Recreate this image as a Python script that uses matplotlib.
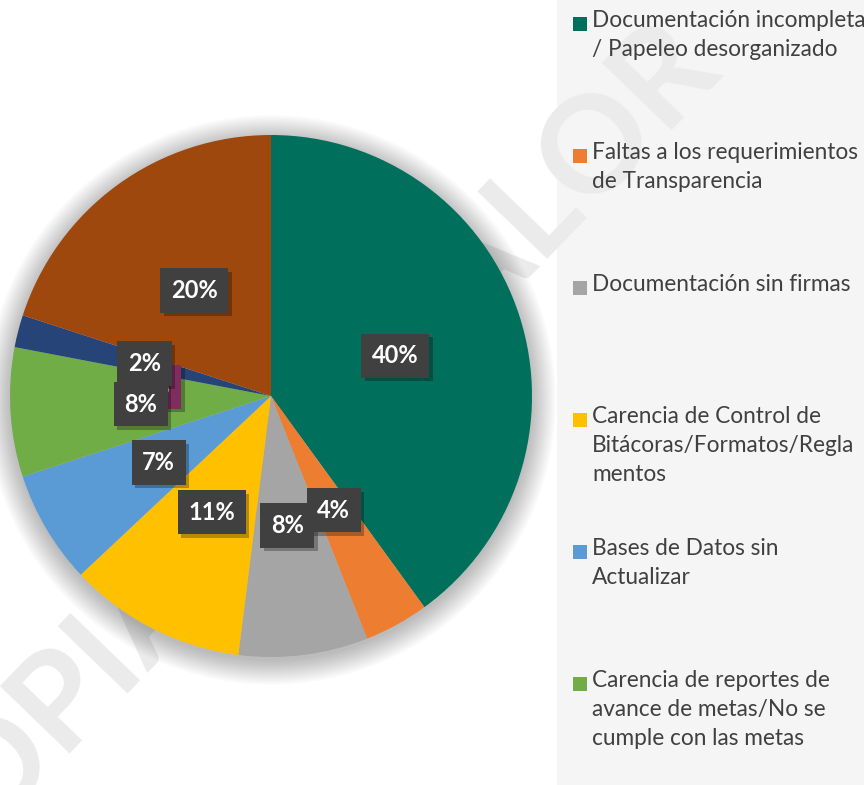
import numpy as np
import matplotlib.pyplot as plt
from matplotlib.patches import Circle, Rectangle

plt.rcParams['font.family'] = ['Lato', 'DejaVu Sans']

# Porcentajes por tipo de observación (en el orden del gráfico, horario desde arriba)
valores = [40, 4, 8, 11, 7, 8, 0, 2, 20]
colores = ['#00705C', '#ED7D31', '#A5A5A5', '#FFC000', '#5B9BD5',
           '#70AD47', '#7E2D5E', '#264478', '#9E480E']
leyenda = [
    'Documentación incompleta\n/ Papeleo desorganizado',
    'Faltas a los requerimientos\nde Transparencia',
    'Documentación sin firmas',
    'Carencia de Control de\nBitácoras/Formatos/Regla\nmentos',
    'Bases de Datos sin\nActualizar',
    'Carencia de reportes de\navance de metas/No se\ncumple con las metas',
]

W, H = 864, 785
fig = plt.figure(figsize=(W / 100, H / 100), dpi=100)
fig.patch.set_facecolor('white')

# panel gris de la leyenda
fig.add_artist(Rectangle((557 / W, 0), 1 - 557 / W, 1, transform=fig.transFigure,
                         facecolor='#f5f5f5', edgecolor='none', zorder=-2))

# marca de agua
fig.text(297 / W, 1 - 462 / H, 'COPIA SIN VALOR', rotation=46, fontsize=97,
         weight='bold', color='#ebebeb', ha='center', va='center',
         rotation_mode='anchor', zorder=-1)

# ejes del pastel: centro (271, 396) px, radio 261 px
cx, cy, r = 271, 396, 261
lim = 1.15
ax = fig.add_axes([(cx - r * lim) / W, (H - cy - r * lim) / H,
                   2 * r * lim / W, 2 * r * lim / H])
ax.patch.set_visible(False)

# sombra difusa alrededor del pastel
for k in range(14):
    ax.add_patch(Circle((0, -0.015), 1.0 + k * 0.007, color='#000000',
                        alpha=0.018, lw=0, zorder=0))

wedges, _ = ax.pie(valores, colors=colores, startangle=90, counterclock=False,
                   radius=1, wedgeprops=dict(linewidth=0, zorder=2))
ax.set_xlim(-lim, lim)
ax.set_ylim(-lim, lim)
ax.set_aspect('equal')
ax.axis('off')

for w, v in zip(wedges, valores):
    ang = np.deg2rad((w.theta1 + w.theta2) / 2)
    x, y = 0.5 * np.cos(ang), 0.5 * np.sin(ang)
    if v == 0:
        # etiqueta del 0% que queda tapada por la del 8%
        off, fc, tc, z = (8, -11), '#7E2D5E', '#A9D18E', 3
    else:
        off, fc, tc, z = (0, 0), '#404040', 'white', 5
    ax.annotate(f'{v}%', (x, y), xytext=(off[0] + 2.5, off[1] - 2.5),
                textcoords='offset points', ha='center', va='center',
                fontsize=17, weight='bold', color='none', zorder=z - 1,
                bbox=dict(boxstyle='square,pad=0.45', fc='black', ec='none', alpha=0.28))
    ax.annotate(f'{v}%', (x, y), xytext=off, textcoords='offset points',
                ha='center', va='center', fontsize=17, weight='bold', color=tc,
                zorder=z,
                bbox=dict(boxstyle='square,pad=0.45', fc=fc, ec='none'))

# leyenda a la derecha
for i, (txt, c) in enumerate(zip(leyenda, colores)):
    yc = 24 + 132 * i
    fig.add_artist(Rectangle((573 / W, 1 - (yc + 7) / H), 14 / W, 14 / H,
                             transform=fig.transFigure, facecolor=c,
                             edgecolor='none', zorder=5))
    fig.text(592 / W, 1 - (yc - 14) / H, txt, fontsize=16.3, color='#404040',
             ha='left', va='top', linespacing=1.48, zorder=5)

fig.savefig('out.png', dpi=100)
